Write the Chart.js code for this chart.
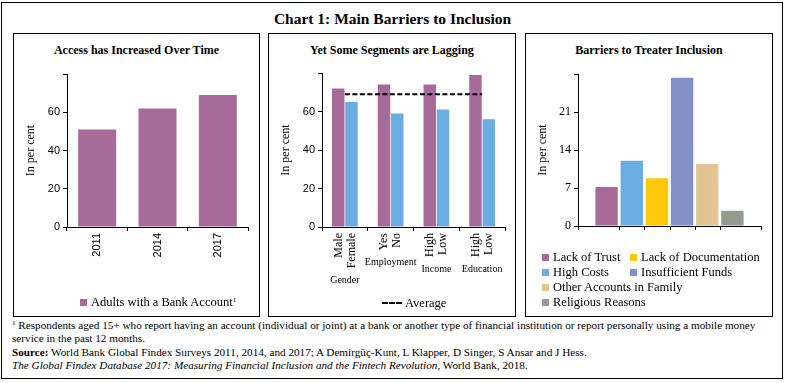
<!DOCTYPE html>
<html>
<head>
<meta charset="utf-8">
<script src="https://cdn.jsdelivr.net/npm/chart.js@4"></script>
<style>
  html, body { margin: 0; padding: 0; background: #fff; }
  body { width: 785px; height: 383px; position: relative; overflow: hidden; font-family: "Liberation Serif", serif; color: #000; }
  .abs { position: absolute; }
  #frame { left: 1px; top: 2px; width: 780px; height: 375px; border: 1px solid #000; }
  #mainTitle { left: 0; width: 785px; top: 10px; text-align: center; font-weight: bold; font-size: 15.5px; line-height: 18px; }
  .panel { top: 33px; height: 282px; border: 1px solid #000; }
  #p1 { left: 13px; width: 245px; }
  #p2 { left: 268px; width: 246px; }
  #p3 { left: 525px; width: 246px; }
  .ptitle { top: 43px; text-align: center; font-weight: bold; font-size: 12px; line-height: 14px; }
  canvas { position: absolute; }
  .legend { font-size: 12.5px; line-height: 15px; white-space: nowrap; }
  .box { display: inline-block; width: 7px; height: 7px; margin-right: 4px; vertical-align: 0px; }
  .dash { display: inline-block; width: 20px; height: 0; border-top: 2px dashed #000; margin-right: 3px; vertical-align: 3px; }
  #lg3 { left: 542px; top: 250px; display: grid; grid-template-columns: 88px auto; }
  #lg3 .wide { grid-column: span 2; }
  #notes { left: 12px; top: 319px; font-size: 11.2px; line-height: 13.3px; white-space: nowrap; }
  sup { font-size: 7px; line-height: 0; vertical-align: 4px; }
</style>
</head>
<body>
<div id="frame" class="abs"></div>
<div id="mainTitle" class="abs">Chart 1: Main Barriers to Inclusion</div>

<div id="p1" class="abs panel"></div>
<div id="p2" class="abs panel"></div>
<div id="p3" class="abs panel"></div>

<div class="abs ptitle" style="left:13px;width:247px;">Access has Increased Over Time</div>
<div class="abs ptitle" style="left:268px;width:248px;">Yet Some Segments are Lagging</div>
<div class="abs ptitle" style="left:525px;width:248px;">Barriers to Treater Inclusion</div>

<canvas id="c1" width="245" height="282" style="left:14px;top:34px;"></canvas>
<canvas id="c2" width="246" height="282" style="left:269px;top:34px;"></canvas>
<canvas id="c3" width="246" height="282" style="left:526px;top:34px;"></canvas>

<div id="lg1" class="abs legend" style="left:80px;top:295px;"></div>
<div id="lg2" class="abs legend" style="left:382px;top:296px;"></div>
<div id="lg3" class="abs legend"></div>

<div id="notes" class="abs">
  <div><sup>1</sup> Respondents aged 15+ who report having an account (individual or joint) at a bank or another type of financial institution or report personally using a mobile money</div>
  <div>service in the past 12 months.</div>
  <div><b>Source:</b> World Bank Global Findex Surveys 2011, 2014, and 2017; A Demirgüç-Kunt, L Klapper, D Singer, S Ansar and J Hess.</div>
  <div><i>The Global Findex Database 2017: Measuring Financial Inclusion and the Fintech Revolution</i>, World Bank, 2018.</div>
</div>

<script>
// ---------------- Data ----------------
const years = ['2011', '2014', '2017'];
const accountShare = [51, 62, 69];
const accountLegend = 'Adults with a Bank Account';

const segmentLabels = [['Male', 'Female'], ['Yes', 'No'], ['High', 'Low'], ['High', 'Low']];
const segmentGroups = ['Gender', 'Employment', 'Income', 'Education'];
const segmentFirst = [72, 74, 74, 79];
const segmentSecond = [65, 59, 61, 56];
const averageShare = [69, 69, 69, 69];
const averageLegend = 'Average';

const barrierNames = ['Lack of Trust', 'High Costs', 'Lack of Documentation', 'Insufficient Funds', 'Other Accounts in Family', 'Religious Reasons'];
const barrierValues = [7.2, 12, 8.8, 27.3, 11.4, 2.8];

const percentTicksMax = 80;
const barrierTicksMax = 28;
const barrierTickStep = 7;

// ---------------- Styles ----------------
const PURPLE = '#A76B99';
const BLUE = '#6BADE1';
const barrierColors = ['#A76B99', '#6BADE1', '#FFC90B', '#8390C6', '#E2C394', '#949B90'];
const legendOrder3 = [0, 2, 1, 3, 4, 5];
const SERIF = '"Liberation Serif", serif';

Chart.defaults.font.family = SERIF;
Chart.defaults.color = '#000';
Chart.defaults.animation = false;
Chart.defaults.responsive = false;
Chart.defaults.devicePixelRatio = 1;

function yAxis(max, step, tickFont, width) {
  return {
    min: 0, max: max,
    ticks: { stepSize: step, font: tickFont, color: '#000', padding: 3,
      callback: (v) => (v === max ? '' : v) },
    grid: { drawOnChartArea: false, drawTicks: true, tickLength: 4, color: '#000', lineWidth: 1 },
    border: { display: true, color: '#000', width: 1 },
    title: { display: true, text: 'In per cent', font: { family: SERIF, size: 12 }, color: '#000', padding: { top: 10, bottom: 0 } },
    afterFit: (s) => { s.width = width; }
  };
}
function xAxis(tickFont, height, showTicks) {
  return {
    ticks: { display: showTicks, font: tickFont, color: '#000', minRotation: 90, maxRotation: 90, autoSkip: false, padding: 2 },
    grid: { drawOnChartArea: false, drawTicks: true, tickLength: 4, color: '#000', lineWidth: 1, offset: true },
    border: { display: true, color: '#000', width: 1 },
    afterFit: (s) => { s.height = height; }
  };
}
const sansTick = { family: '"Liberation Sans", Arial, sans-serif', size: 11 };
const serifTick = { family: SERIF, size: 12 };

// ---------------- Chart 1 ----------------
new Chart(document.getElementById('c1'), {
  type: 'bar',
  data: { labels: years, datasets: [{ label: accountLegend, data: accountShare, backgroundColor: PURPLE, categoryPercentage: 1, barPercentage: 0.63 }] },
  options: {
    layout: { padding: { left: 0, right: 11, top: 40, bottom: 0 } },
    plugins: { legend: { display: false }, tooltip: { enabled: false } },
    scales: { x: xAxis(sansTick, 89, true), y: yAxis(percentTicksMax, 20, sansTick, 53) }
  }
});
document.getElementById('lg1').innerHTML = '<span class="box" style="background:' + PURPLE + '"></span>' + accountLegend + '<sup>1</sup>';

// ---------------- Chart 2 ----------------
// Draws the two-line rotated category labels centred on each category, and the group name under them.
const segmentLabelPlugin = {
  id: 'segmentLabels',
  afterDraw(chart) {
    const xs = chart.scales.x;
    const ctx = chart.ctx;
    const lh = 13;
    const top = xs.top + 6;
    ctx.save();
    ctx.fillStyle = '#000';
    chart.data.labels.forEach((lines, i) => {
      const px = xs.getPixelForTick(i);
      ctx.font = '12px ' + SERIF;
      let maxW = 0;
      lines.forEach((t, j) => {
        const cx = px + (j - (lines.length - 1) / 2) * lh;
        maxW = Math.max(maxW, ctx.measureText(t).width);
        ctx.save();
        ctx.translate(cx, top);
        ctx.rotate(-Math.PI / 2);
        ctx.textAlign = 'right';
        ctx.textBaseline = 'middle';
        ctx.fillText(t, 0, 0);
        ctx.restore();
      });
      ctx.font = '10px ' + SERIF;
      ctx.textAlign = 'center';
      ctx.textBaseline = 'middle';
      ctx.fillText(segmentGroups[i], px, top + maxW + 12);
    });
    ctx.restore();
  }
};
new Chart(document.getElementById('c2'), {
  type: 'bar',
  data: {
    labels: segmentLabels,
    datasets: [
      { type: 'line', label: averageLegend, data: averageShare, borderColor: '#000', borderWidth: 2, borderDash: [5, 2.5], pointRadius: 0, fill: false, order: 0 },
      { label: 'first', data: segmentFirst, backgroundColor: PURPLE, categoryPercentage: 0.58, barPercentage: 0.94, order: 1 },
      { label: 'second', data: segmentSecond, backgroundColor: BLUE, categoryPercentage: 0.58, barPercentage: 0.94, order: 1 }
    ]
  },
  options: {
    layout: { padding: { left: 0, right: 10, top: 39, bottom: 0 } },
    plugins: { legend: { display: false }, tooltip: { enabled: false } },
    scales: { x: xAxis(serifTick, 89, false), y: yAxis(percentTicksMax, 20, sansTick, 53) }
  },
  plugins: [segmentLabelPlugin]
});
document.getElementById('lg2').innerHTML = '<span class="dash"></span>' + averageLegend;

// ---------------- Chart 3 ----------------
const barTicksPlugin = {
  id: 'barTicks',
  afterDraw(chart) {
    const ctx = chart.ctx;
    const y = chart.chartArea.bottom;
    const bars = chart.data.datasets.map((d, i) => chart.getDatasetMeta(i).data[0]);
    ctx.save();
    ctx.strokeStyle = '#000';
    ctx.lineWidth = 1;
    for (let i = 0; i < bars.length - 1; i++) {
      const a = bars[i], b = bars[i + 1];
      const x = Math.round(((a.x + a.width / 2) + (b.x - b.width / 2)) / 2) + 0.5;
      ctx.beginPath();
      ctx.moveTo(x, y);
      ctx.lineTo(x, y + 4);
      ctx.stroke();
    }
    ctx.restore();
  }
};
new Chart(document.getElementById('c3'), {
  type: 'bar',
  data: {
    labels: [''],
    datasets: barrierNames.map((n, i) => ({ label: n, data: [barrierValues[i]], backgroundColor: barrierColors[i], categoryPercentage: 0.825, barPercentage: 0.89 }))
  },
  options: {
    layout: { padding: { left: 0, right: 11, top: 40, bottom: 0 } },
    plugins: { legend: { display: false }, tooltip: { enabled: false } },
    scales: { x: xAxis(serifTick, 90, false), y: yAxis(barrierTicksMax, barrierTickStep, serifTick, 52) }
  },
  plugins: [barTicksPlugin]
});
document.getElementById('lg3').innerHTML = legendOrder3.map(i =>
  '<div class="' + (i >= 4 ? 'wide' : '') + '"><span class="box" style="background:' + barrierColors[i] + '"></span>' + barrierNames[i] + '</div>'
).join('');
</script>
</body>
</html>
